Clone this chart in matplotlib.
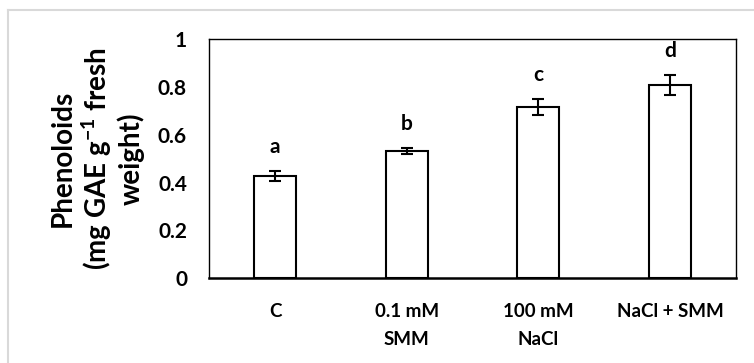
import matplotlib
matplotlib.use("Agg")
import matplotlib.pyplot as plt
from matplotlib.lines import Line2D

categories = ["C", "0.1 mM\nSMM", "100 mM\nNaCl", "NaCl + SMM"]
values = [0.427, 0.533, 0.716, 0.810]
errors = [0.021, 0.013, 0.035, 0.042]
letters = ["a", "b", "c", "d"]
yticks = [0, 0.2, 0.4, 0.6, 0.8, 1]
ytick_labels = ["0", "0.2", "0.4", "0.6", "0.8", "1"]

plt.rcParams['font.family'] = ['Lato', 'DejaVu Sans']
plt.rcParams['font.weight'] = 'bold'
plt.rcParams['mathtext.default'] = 'regular'

fig = plt.figure(figsize=(7.54, 3.63), dpi=100)
ax = fig.add_axes([0.2776, 0.2342, 0.6981, 0.6575])

x = list(range(len(categories)))
ax.bar(x, values, width=0.32, color='white', edgecolor='black', linewidth=1.5, zorder=2)
ax.errorbar(x, values, yerr=errors, fmt='none', ecolor='black', elinewidth=1.5,
            capsize=4.5, capthick=1.5, zorder=3)
for xi, v, e, l in zip(x, values, errors, letters):
    ax.annotate(l, (xi, v + e), xytext=(0, 13), textcoords='offset points',
                ha='center', va='baseline', fontsize=15, fontweight='bold')

ax.set_xlim(-0.5, len(categories) - 0.5)
ax.set_ylim(0, 1)
ax.set_yticks(yticks)
ax.set_yticklabels(ytick_labels)
ax.set_xticks(x)
ax.set_xticklabels(categories, linespacing=1.8)
ax.tick_params(axis='y', length=0, pad=16, labelsize=15)
ax.tick_params(axis='x', length=0, pad=18, labelsize=13.5)
for lab in ax.get_xticklabels() + ax.get_yticklabels():
    lab.set_fontweight('bold')
for s in ['top', 'right', 'left']:
    ax.spines[s].set_linewidth(1.0)
ax.spines['bottom'].set_linewidth(1.8)

fig.text(0.129, 0.5625, "Phenoloids\n(mg GAE g$^{-1}$ fresh\nweight)", rotation=90,
         ha='center', va='center', multialignment='center', fontsize=20,
         fontweight='bold', linespacing=1.15)

# light gray outer frame (left and top only visible)
fig.add_artist(Line2D([7.5 / 754, 7.5 / 754], [0, 1 - 9.5 / 363], color='#d9d9d9', lw=1.5))
fig.add_artist(Line2D([7.5 / 754, 1], [1 - 9.5 / 363, 1 - 9.5 / 363], color='#d9d9d9', lw=1.5))

fig.savefig("out.png", dpi=100)
